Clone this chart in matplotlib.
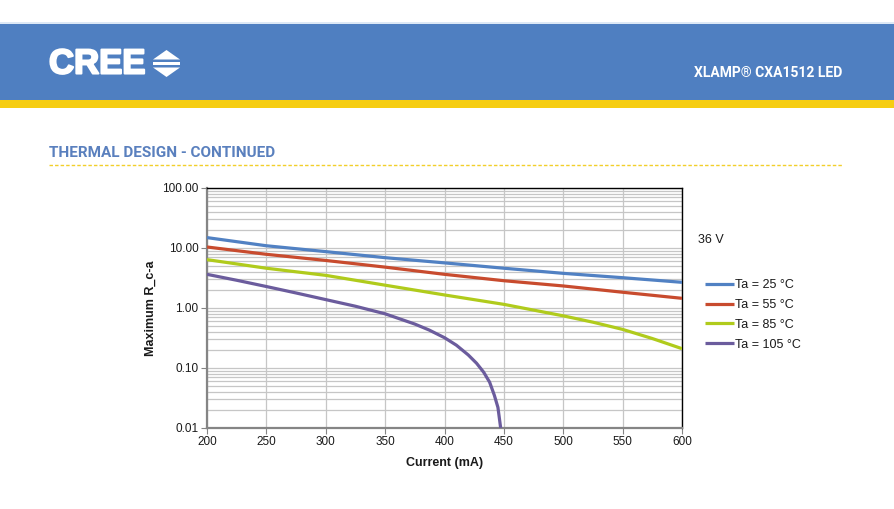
import matplotlib.pyplot as plt
import numpy as np
from matplotlib import patheffects
from matplotlib.patches import Polygon, Rectangle
from matplotlib.lines import Line2D
from matplotlib.ticker import NullFormatter, LogLocator

W, H = 895, 509

HEADER_BLUE = "#4f7fc1"
HEADER_YELLOW = "#f6cd12"
TITLE_BLUE = "#5a80be"
GRID = "#c6c6c6"
AXIS_GRAY = "#858585"
INK = "#1a1a1a"

# data (current in mA, max R_c-a in °C/W)
current = [200, 250, 300, 350, 400, 450, 500, 550, 600]
ta_25 = [14.9, 10.9, 8.7, 6.9, 5.65, 4.6, 3.78, 3.2, 2.68]
ta_55 = [10.4, 7.85, 6.2, 4.8, 3.64, 2.85, 2.33, 1.83, 1.45]
current_85 = [200, 250, 300, 350, 400, 450, 500, 525, 550, 575, 600]
ta_85 = [6.4, 4.6, 3.5, 2.4, 1.65, 1.15, 0.74, 0.58, 0.44, 0.31, 0.21]
current_105 = [200, 225, 250, 275, 300, 325, 350, 375, 387, 400, 410, 420, 427,
               433, 438, 442, 445, 447.3]
ta_105 = [3.64, 2.9, 2.28, 1.78, 1.38, 1.07, 0.8, 0.54, 0.43, 0.32, 0.24, 0.165,
          0.12, 0.085, 0.058, 0.035, 0.022, 0.01]

series = [
    ("Ta = 25 °C", current, ta_25, "#5181c3"),
    ("Ta = 55 °C", current, ta_55, "#c84b2e"),
    ("Ta = 85 °C", current_85, ta_85, "#b0cb1c"),
    ("Ta = 105 °C", current_105, ta_105, "#6b5c9d"),
]


def fx(px):
    return px / W


def fy(py):
    return 1 - py / H


def band(top, bottom, color):
    fig.patches.append(Rectangle((0, fy(bottom)), 1, (bottom - top) / H,
                                 transform=fig.transFigure, facecolor=color,
                                 linewidth=0, zorder=0))


fig = plt.figure(figsize=(W / 100, H / 100), dpi=100, facecolor="white")

# page header
band(22, 24, "#dde8f5")
band(24, 100, HEADER_BLUE)
band(100, 108, HEADER_YELLOW)
fig.text(fx(49), fy(64), "CREE", color="white", fontsize=25, fontweight="heavy",
         family="Liberation Sans", va="center", ha="left", zorder=2,
         path_effects=[patheffects.withStroke(linewidth=1.5, foreground="white")])
# logo mark: up triangle, bar, down triangle
logo = [
    [(153, 59.5), (180, 59.5), (166.5, 50)],
    [(153, 62), (180, 62), (180, 65), (153, 65)],
    [(153, 67.5), (180, 67.5), (166.5, 77)],
]
for pts in logo:
    fig.patches.append(Polygon([(fx(x), fy(y)) for x, y in pts], closed=True,
                               transform=fig.transFigure, facecolor="white",
                               linewidth=0, zorder=1))
fig.text(fx(842), fy(73), "XLAMP® CXA1512 LED", color="white", fontsize=10,
         fontweight="bold", family="Roboto", va="center", ha="right", zorder=2)

# section title
fig.text(fx(49), fy(153), "THERMAL DESIGN - CONTINUED", color=TITLE_BLUE, fontsize=11,
         fontweight="bold", family="Roboto", va="center", ha="left")
fig.add_artist(Line2D([fx(49), fx(843)], [fy(165), fy(165)], transform=fig.transFigure,
                      color="#f2cf2a", linewidth=1.0, linestyle=(0, (2.5, 1.5))))

# chart
ax = fig.add_axes([fx(207), fy(428), (682 - 207) / W, (428 - 188) / H])

for label, x, y, color in series:
    ax.plot(x, y, color=color, linewidth=2.3, label=label, zorder=3, solid_capstyle="butt")

ax.set_yscale("log")
ax.set_xlim(200, 600)
ax.set_ylim(0.01, 100)
ax.set_xticks(np.arange(200, 601, 50))
ax.set_yticks([0.01, 0.1, 1, 10, 100])
ax.set_yticklabels(["0.01", "0.10", "1.00", "10.00", "100.00"])
ax.yaxis.set_minor_locator(LogLocator(base=10, subs=np.arange(2, 10)))
ax.yaxis.set_minor_formatter(NullFormatter())

ax.grid(True, which="major", color=GRID, linewidth=0.9, zorder=0)
ax.grid(True, which="minor", axis="y", color=GRID, linewidth=0.9, zorder=0)
ax.tick_params(which="minor", length=0)
ax.tick_params(which="major", length=4, width=0.8, color=AXIS_GRAY, labelsize=8.5,
               labelcolor=INK, pad=2)
for lab in ax.get_xticklabels() + ax.get_yticklabels():
    lab.set_family("Liberation Sans")

ax.spines["left"].set_color(AXIS_GRAY)
ax.spines["left"].set_linewidth(1.6)
ax.spines["bottom"].set_color(AXIS_GRAY)
ax.spines["bottom"].set_linewidth(1.6)
ax.spines["top"].set_color("black")
ax.spines["top"].set_linewidth(1.0)
ax.spines["right"].set_color("black")
ax.spines["right"].set_linewidth(1.0)

ax.set_xlabel("Current (mA)", fontsize=9, fontweight="bold", color=INK,
              family="Liberation Sans", labelpad=6)
ax.set_ylabel("Maximum R_c-a", fontsize=9, fontweight="bold", color=INK,
              family="Liberation Sans", labelpad=4)

fig.text(fx(698), fy(240), "36 V", fontsize=9, color=INK, family="Liberation Sans",
         va="center", ha="left")
leg = ax.legend(loc="upper left", bbox_to_anchor=(fx(705), fy(279)),
                bbox_transform=fig.transFigure, frameon=False, fontsize=9,
                handlelength=2.3, handletextpad=0.1, labelspacing=0.63,
                borderpad=0, borderaxespad=0)
for text in leg.get_texts():
    text.set_color(INK)
    text.set_family("Liberation Sans")

fig.savefig("out.png", dpi=100, facecolor="white")
